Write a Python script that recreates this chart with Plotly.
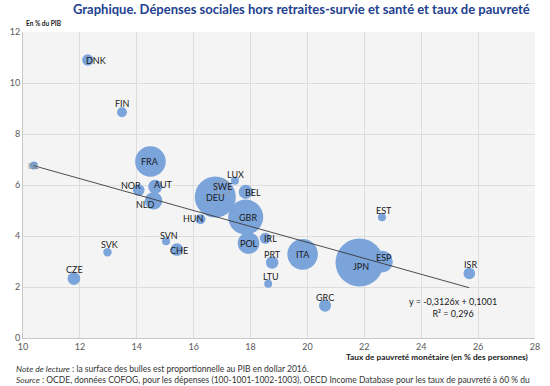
import plotly.graph_objects as go

# ---- data ----
countries = ["JPN", "DEU", "GBR", "FRA", "ITA", "ESP", "POL", "NLD", "AUT", "BEL",
             "CHE", "CZE", "PRT", "GRC", "ISR", "NOR", "DNK", "IRL", "FIN", "HUN",
             "SVK", "LTU", "SVN", "LUX", "EST", "ISL", "SWE"]
poverty = [21.83, 16.76, 17.83, 14.48, 19.83, 22.62, 17.93, 14.59, 14.65, 17.83,
           15.41, 11.79, 18.76, 20.62, 25.69, 14.07, 12.28, 18.52, 13.48, 16.24,
           12.97, 18.62, 15.03, 17.45, 22.62, 10.38, 17.03]
spending = [2.96, 5.53, 4.74, 6.92, 3.28, 3.00, 3.72, 5.38, 5.93, 5.73,
            3.47, 2.33, 2.96, 1.27, 2.53, 5.80, 10.90, 3.91, 8.85, 4.66,
            3.36, 2.13, 3.79, 6.17, 4.74, 6.76, 5.89]
gdp = [4.90, 3.58, 2.61, 1.99, 1.99, 0.99, 0.99, 0.66, 0.42, 0.42,
       0.34, 0.34, 0.33, 0.31, 0.29, 0.28, 0.28, 0.26, 0.21, 0.21,
       0.15, 0.087, 0.067, 0.067, 0.053, 0.053, 0.45]

trend_slope = -0.3126
trend_intercept = 10.001
trend_label = "y = -0,3126x + 0,1001<br>R² = 0,296"

x_ticks = [10, 12, 14, 16, 18, 20, 22, 24, 26, 28]
y_ticks = [0, 2, 4, 6, 8, 10, 12]

# label offsets in pixels (style)
label_shift = {
    "DNK": (8, 0), "FIN": (1, 9), "FRA": (0, 0), "ISL": (0, 0), "NOR": (-8, 5),
    "AUT": (8, 2), "NLD": (-9, -4), "SWE": (0, 1), "DEU": (0, -1), "LUX": (1, 6),
    "BEL": (7, -1), "HUN": (-7, 1), "GBR": (2, 0), "IRL": (5, 0), "POL": (0, 0),
    "SVN": (3, 6), "CHE": (2, -1), "SVK": (2, 8), "CZE": (1, 9), "PRT": (0, 8),
    "LTU": (3, 7), "ITA": (0, 0), "JPN": (1, -4), "ESP": (2, 4), "EST": (2, 7),
    "ISR": (1, 9), "GRC": (0, 8),
}

BUBBLE = "#7ba4db"
size_ref = 2.0 * max(gdp) / (48 ** 2)

fig = go.Figure()

fig.add_trace(go.Scatter(
    x=poverty, y=spending, mode="markers",
    marker=dict(
        size=gdp, sizemode="area", sizeref=size_ref, sizemin=4,
        color=BUBBLE, opacity=1,
        line=dict(width=[1 if c == "SWE" else 0 for c in countries],
                  color=["#9c9c9c" if c == "SWE" else BUBBLE for c in countries]),
    ),
    hoverinfo="text", text=countries, showlegend=False,
))

x0, x1 = min(poverty), max(poverty)
fig.add_trace(go.Scatter(
    x=[x0, x1], y=[trend_slope * x0 + trend_intercept, trend_slope * x1 + trend_intercept],
    mode="lines", line=dict(color="#3a3a3a", width=0.9), showlegend=False, hoverinfo="skip",
))

annotations = []
for c, xv, yv in zip(countries, poverty, spending):
    dx, dy = label_shift.get(c, (0, 0))
    annotations.append(dict(
        x=xv, y=yv, xref="x", yref="y", text=c, showarrow=False,
        xshift=dx, yshift=dy,
        font=dict(family="Lato", size=8 if c == "ISL" else 9,
                  color="#8a8a8a" if c == "ISL" else "#1a1a1a"),
    ))

annotations += [
    dict(x=25.1, y=1.2, xref="x", yref="y", text=trend_label, showarrow=False,
         align="center", font=dict(family="Lato", size=9, color="#1a1a1a")),
    dict(x=0.5, y=1, xref="paper", yref="paper", xanchor="center", yanchor="bottom",
         yshift=13, xshift=22,
         text="<b>Graphique. Dépenses sociales hors retraites-survie et santé et taux de pauvreté</b>",
         showarrow=False, font=dict(family="Lato", size=13, color="#23418f")),
    dict(x=0, y=1, xref="paper", yref="paper", xanchor="left", yanchor="bottom",
         yshift=3, xshift=1, text="<b>En % du PIB</b>", showarrow=False,
         font=dict(family="Lato", size=6.5, color="#1a1a1a")),
    dict(x=1, y=0, xref="paper", yref="paper", xanchor="right", yanchor="top",
         yshift=-12, xshift=-5,
         text="<b>Taux de pauvreté monétaire (en % des personnes)</b>", showarrow=False,
         font=dict(family="Lato", size=8.3, color="#1a1a1a")),
    dict(x=0, y=0, xref="paper", yref="paper", xanchor="left", yanchor="top",
         xshift=-9, yshift=-24, align="left", showarrow=False,
         text="<i>Note de lecture</i> : la surface des bulles est proportionnelle au PIB en dollar 2016.<br>"
              "<i>Source</i> : OCDE, données COFOG, pour les dépenses (100-1001-1002-1003), OECD Income Database pour les taux de pauvreté à 60 % du",
         font=dict(family="Lato", size=8.5, color="#333333")),
]

fig.update_layout(
    annotations=annotations,
    width=550, height=386,
    margin=dict(l=23, r=10, t=32, b=48),
    paper_bgcolor="white", plot_bgcolor="#f4f4f4",
    font=dict(family="Lato", size=9, color="#595959"),
    xaxis=dict(range=[10, 28], tickvals=x_ticks, showgrid=True, gridcolor="#dddddd",
               gridwidth=1, zeroline=False, showline=True, linecolor="#c8c8c8",
               tickfont=dict(size=9, color="#595959"), ticks="", fixedrange=True),
    yaxis=dict(range=[0, 12], tickvals=y_ticks, showgrid=True, gridcolor="#dddddd",
               gridwidth=1, zeroline=False, showline=True, linecolor="#c8c8c8",
               tickfont=dict(size=9, color="#595959"), ticks="", fixedrange=True),
    showlegend=False,
)

fig.write_html("out.html", config={"displayModeBar": False},
               post_script="document.body.style.margin='0';document.body.style.padding='0';")
